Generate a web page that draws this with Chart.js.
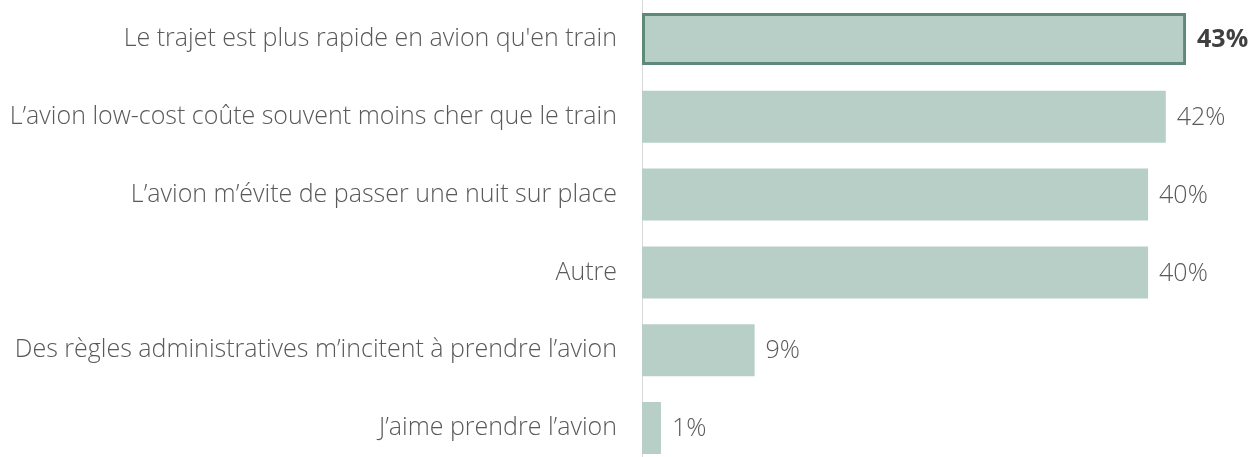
<!DOCTYPE html>
<html>
<head>
<meta charset="utf-8">
<script src="https://cdn.jsdelivr.net/npm/chart.js@4"></script>
<style>
html,body{margin:0;padding:0;background:#fff;overflow:hidden;}
#wrap{position:relative;width:1255px;height:467px;}
</style>
</head>
<body>
<div id="wrap"><canvas id="c"></canvas></div>
<script>
const categories = [
  "Le trajet est plus rapide en avion qu'en train",
  "L’avion low-cost coûte souvent moins cher que le train",
  "L’avion m’évite de passer une nuit sur place",
  "Autre",
  "Des règles administratives m’incitent à prendre l’avion",
  "J’aime prendre l’avion"
];
const values = [43, 41.4, 40, 40, 8.9, 1.5];
const valueLabels = ["43%", "42%", "40%", "40%", "9%", "1%"];
const highlighted = [true, false, false, false, false, false];

const FONT = "'Open Sans', sans-serif";

const valueLabelPlugin = {
  id: 'valueLabels',
  afterDatasetsDraw(chart) {
    const ctx = chart.ctx;
    const meta = chart.getDatasetMeta(0);
    ctx.save();
    ctx.textBaseline = 'middle';
    ctx.textAlign = 'left';
    meta.data.forEach((bar, i) => {
      ctx.font = (highlighted[i] ? 'bold ' : '300 ') + '25px ' + FONT;
      ctx.fillStyle = highlighted[i] ? '#404040' : '#595959';
      ctx.fillText(valueLabels[i], bar.x + 11, bar.y + 1);
    });
    ctx.restore();
  }
};

new Chart(document.getElementById('c'), {
  type: 'bar',
  data: {
    labels: categories,
    datasets: [{
      data: values,
      backgroundColor: '#B7CFC7',
      borderColor: highlighted.map(h => h ? '#5F8A78' : 'rgba(0,0,0,0)'),
      borderWidth: highlighted.map(h => h ? 3 : 0),
      borderSkipped: false,
      categoryPercentage: 1,
      barPercentage: 0.668
    }]
  },
  options: {
    indexAxis: 'y',
    responsive: true,
    maintainAspectRatio: false,
    animation: false,
    layout: { padding: 0 },
    plugins: { legend: { display: false }, tooltip: { enabled: false } },
    scales: {
      x: {
        min: 0, max: 48.45,
        display: false
      },
      y: {
        afterFit(scale) {
          scale.width = 642;
          scale.paddingTop = 0;
          scale.paddingBottom = 0;
        },
        grid: { display: false, drawTicks: false },
        border: { display: true, color: '#D9D9D9', width: 1 },
        ticks: {
          padding: 25,
          color: '#595959',
          font: { family: FONT, size: 25, weight: '300' }
        }
      }
    }
  },
  plugins: [valueLabelPlugin]
});
</script>
</body>
</html>
